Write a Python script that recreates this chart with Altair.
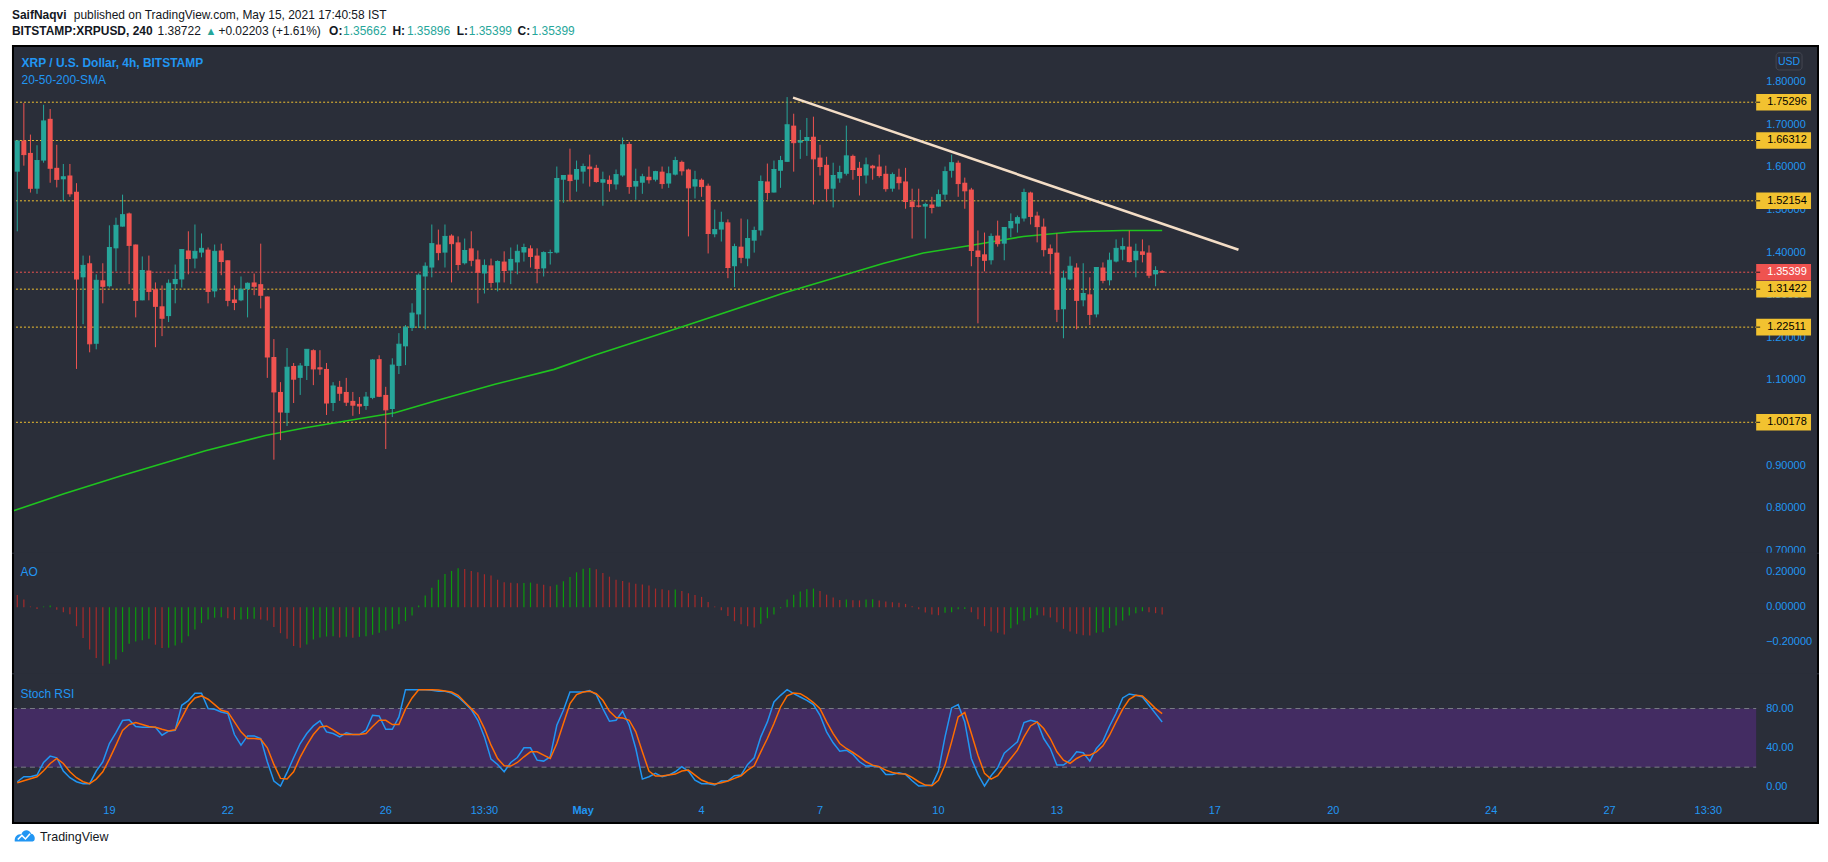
import altair as alt
import pandas as pd

# ---------------- data ----------------
OPEN = [1.590,1.663,1.634,1.550,1.616,1.714,1.599,1.572,1.581,1.543,
        1.342,1.375,1.186,1.335,1.321,1.410,1.461,1.492,1.419,1.288,
        1.358,1.314,1.274,1.251,1.326,1.337,1.405,1.386,1.400,1.407,
        1.309,1.405,1.382,1.290,1.288,1.314,1.330,1.326,1.297,1.155,
        1.073,1.024,1.134,1.106,1.134,1.171,1.131,1.127,1.047,1.085,
        1.073,1.052,1.045,1.040,1.059,1.150,1.066,1.033,1.134,1.180,
        1.223,1.255,1.344,1.365,1.419,1.400,1.440,1.424,1.375,1.410,
        1.384,1.351,1.370,1.330,1.379,1.358,1.377,1.400,1.410,1.393,
        1.363,1.399,1.400,1.571,1.583,1.571,1.590,1.602,1.599,1.564,
        1.571,1.560,1.581,1.655,1.555,1.564,1.578,1.571,1.590,1.562,
        1.583,1.613,1.595,1.555,1.571,1.557,1.443,1.454,1.471,1.368,
        1.414,1.386,1.428,1.452,1.567,1.541,1.592,1.613,1.698,1.658,
        1.662,1.672,1.623,1.606,1.550,1.574,1.585,1.627,1.599,1.581,
        1.604,1.602,1.585,1.550,1.578,1.567,1.520,1.510,1.508,1.513,
        1.508,1.536,1.592,1.611,1.564,1.548,1.405,1.396,1.382,1.440,
        1.421,1.457,1.468,1.480,1.541,1.487,1.461,1.410,1.400,1.267,
        1.337,1.365,1.288,1.302,1.255,1.365,1.335,1.379,1.407,1.414,
        1.382,1.403,1.400,1.349,1.35662]
HIGH = [1.664,1.751,1.677,1.652,1.747,1.737,1.653,1.608,1.608,1.563,
        1.393,1.393,1.349,1.375,1.464,1.482,1.536,1.494,1.419,1.391,
        1.393,1.330,1.323,1.337,1.372,1.407,1.450,1.466,1.445,1.412,
        1.419,1.421,1.382,1.323,1.344,1.330,1.351,1.421,1.297,1.197,
        1.096,1.176,1.141,1.141,1.173,1.173,1.171,1.141,1.096,1.099,
        1.106,1.073,1.061,1.073,1.150,1.159,1.085,1.152,1.211,1.230,
        1.281,1.351,1.377,1.466,1.454,1.466,1.443,1.438,1.433,1.450,
        1.405,1.384,1.386,1.382,1.403,1.412,1.419,1.421,1.417,1.410,
        1.403,1.407,1.602,1.581,1.644,1.616,1.609,1.630,1.606,1.590,
        1.581,1.595,1.670,1.660,1.597,1.585,1.602,1.592,1.602,1.602,
        1.625,1.616,1.597,1.592,1.574,1.562,1.501,1.496,1.478,1.421,
        1.480,1.478,1.461,1.581,1.609,1.616,1.627,1.765,1.726,1.688,
        1.716,1.719,1.653,1.625,1.611,1.604,1.698,1.630,1.613,1.623,
        1.606,1.630,1.604,1.588,1.597,1.599,1.550,1.550,1.517,1.531,
        1.548,1.602,1.630,1.616,1.576,1.552,1.452,1.447,1.445,1.475,
        1.459,1.492,1.487,1.550,1.543,1.496,1.480,1.419,1.445,1.358,
        1.391,1.375,1.375,1.342,1.365,1.377,1.400,1.431,1.435,1.452,
        1.421,1.431,1.417,1.368,1.35896]
LOW = [1.450,1.604,1.541,1.538,1.611,1.564,1.553,1.520,1.531,1.127,
       1.232,1.166,1.173,1.281,1.318,1.356,1.461,1.326,1.248,1.288,
       1.288,1.178,1.204,1.237,1.281,1.318,1.349,1.363,1.389,1.281,
       1.295,1.347,1.274,1.265,1.286,1.248,1.300,1.269,1.106,0.914,
       0.960,0.993,1.047,1.066,1.101,1.089,1.113,1.019,1.028,1.052,
       1.040,1.017,1.021,1.031,1.056,1.061,0.939,1.014,1.115,1.136,
       1.216,1.223,1.220,1.342,1.382,1.365,1.330,1.358,1.372,1.368,
       1.281,1.304,1.318,1.309,1.330,1.326,1.349,1.379,1.365,1.328,
       1.344,1.372,1.398,1.517,1.520,1.543,1.562,1.555,1.564,1.510,
       1.543,1.548,1.578,1.538,1.524,1.538,1.562,1.567,1.550,1.552,
       1.581,1.581,1.438,1.527,1.531,1.398,1.436,1.426,1.340,1.319,
       1.375,1.368,1.400,1.440,1.524,1.541,1.552,1.613,1.590,1.620,
       1.627,1.513,1.581,1.520,1.506,1.564,1.581,1.571,1.534,1.562,
       1.571,1.576,1.543,1.543,1.548,1.503,1.433,1.506,1.433,1.492,
       1.508,1.524,1.576,1.531,1.503,1.368,1.234,1.356,1.372,1.414,
       1.382,1.436,1.447,1.473,1.466,1.424,1.391,1.349,1.237,1.199,
       1.335,1.220,1.274,1.230,1.248,1.328,1.323,1.377,1.382,1.377,
       1.342,1.377,1.340,1.321,1.35399]
CLOSE = [1.662,1.630,1.551,1.616,1.709,1.598,1.572,1.578,1.538,1.338,
         1.370,1.186,1.335,1.321,1.412,1.464,1.489,1.417,1.288,1.358,
         1.309,1.274,1.246,1.328,1.337,1.407,1.386,1.403,1.410,1.309,
         1.403,1.379,1.288,1.283,1.314,1.328,1.321,1.300,1.155,1.073,
         1.026,1.131,1.103,1.134,1.173,1.127,1.127,1.047,1.087,1.070,
         1.049,1.042,1.040,1.061,1.148,1.063,1.031,1.136,1.185,1.225,
         1.258,1.347,1.368,1.421,1.400,1.438,1.421,1.372,1.405,1.382,
         1.354,1.370,1.330,1.379,1.358,1.384,1.403,1.412,1.391,1.363,
         1.400,1.400,1.574,1.581,1.569,1.595,1.602,1.597,1.567,1.571,
         1.562,1.583,1.653,1.555,1.567,1.578,1.571,1.590,1.562,1.585,
         1.616,1.592,1.552,1.571,1.555,1.445,1.454,1.471,1.365,1.414,
         1.389,1.433,1.452,1.567,1.541,1.595,1.616,1.700,1.658,1.662,
         1.670,1.620,1.602,1.550,1.581,1.588,1.627,1.595,1.581,1.606,
         1.599,1.581,1.550,1.583,1.564,1.520,1.508,1.509,1.513,1.506,
         1.536,1.590,1.611,1.562,1.545,1.405,1.391,1.382,1.438,1.421,
         1.459,1.473,1.482,1.541,1.485,1.461,1.407,1.398,1.267,1.340,
         1.368,1.288,1.304,1.255,1.365,1.335,1.382,1.410,1.414,1.379,
         1.403,1.396,1.347,1.358,1.35399]

AO = [0.070,0.044,0.004,-0.010,0.004,0.010,-0.015,-0.029,-0.040,-0.109,
      -0.177,-0.242,-0.291,-0.335,-0.324,-0.299,-0.257,-0.210,-0.196,-0.190,
      -0.181,-0.215,-0.234,-0.232,-0.219,-0.204,-0.166,-0.128,-0.091,-0.070,
      -0.061,-0.057,-0.063,-0.072,-0.070,-0.068,-0.066,-0.070,-0.076,-0.114,
      -0.149,-0.181,-0.223,-0.232,-0.213,-0.185,-0.173,-0.168,-0.166,-0.173,
      -0.170,-0.175,-0.170,-0.166,-0.158,-0.147,-0.133,-0.124,-0.097,-0.080,
      -0.048,0.010,0.067,0.112,0.158,0.190,0.208,0.223,0.219,0.208,
      0.200,0.189,0.181,0.158,0.143,0.140,0.138,0.139,0.141,0.135,
      0.128,0.120,0.128,0.149,0.173,0.200,0.221,0.225,0.217,0.196,
      0.175,0.158,0.150,0.141,0.135,0.130,0.124,0.107,0.103,0.097,
      0.101,0.093,0.080,0.070,0.059,0.030,0.004,-0.017,-0.050,-0.080,
      -0.097,-0.109,-0.116,-0.095,-0.063,-0.042,-0.006,0.044,0.072,0.090,
      0.103,0.107,0.093,0.072,0.055,0.042,0.044,0.040,0.039,0.044,
      0.045,0.038,0.032,0.029,0.025,0.019,0.006,-0.011,-0.030,-0.042,
      -0.046,-0.032,-0.029,-0.011,-0.010,-0.029,-0.069,-0.109,-0.139,-0.147,
      -0.156,-0.120,-0.099,-0.078,-0.063,-0.046,-0.048,-0.059,-0.086,-0.124,
      -0.139,-0.152,-0.160,-0.162,-0.147,-0.143,-0.120,-0.105,-0.076,-0.048,
      -0.034,-0.023,-0.029,-0.034,-0.042]

STOCH_K = [5.1,10.2,10.2,11.9,24.8,31.3,29.6,16.0,9.2,5.1,
           3.1,3.1,16.0,25.5,44.2,55.4,67.7,68.4,61.6,60.9,
           60.9,60.9,52.7,56.8,57.8,83.3,88.1,95.6,95.6,79.9,
           79.3,76.5,74.8,53.4,42.5,52.0,52.0,49.3,25.5,5.8,
           0.7,14.6,29.6,44.2,54.4,62.2,67.3,56.1,54.4,51.0,
           55.1,53.4,53.4,57.8,73.1,72.4,58.8,58.8,71.4,99.3,
           99.3,99.3,99.3,98.6,97.6,97.6,95.9,91.8,85.7,78.9,
           68.0,51.0,28.2,22.8,15.3,24.8,29.9,39.8,39.8,27.2,
           26.2,30.6,62.9,78.2,96.9,96.9,96.9,98.3,94.2,79.9,
           67.0,68.0,77.2,62.9,39.1,7.8,10.2,13.6,10.2,11.9,
           15.3,20.4,16.0,6.8,3.1,3.1,1.7,5.8,6.1,11.2,
           11.9,22.8,29.6,51.0,66.3,86.7,93.5,99.3,95.2,91.8,
           88.4,84.0,73.1,56.1,44.9,36.4,37.4,33.0,25.5,21.1,
           21.4,20.4,12.6,12.6,14.3,12.6,6.1,0.7,1.0,1.7,
           16.0,51.0,80.6,84.0,66.3,28.9,12.6,0.7,11.2,19.4,
           34.4,40.1,45.9,65.6,68.0,66.3,49.3,39.1,22.1,22.1,
           27.2,35.7,34.7,26.2,39.1,46.6,61.9,75.2,90.8,94.9,
           93.5,91.8,83.3,74.8,66.3]
STOCH_D = [4.1,6.1,8.2,10.2,16.3,23.8,28.9,23.8,15.3,9.2,
           5.1,3.1,7.8,15.3,28.2,42.5,57.5,63.6,65.6,63.6,
           61.6,60.9,58.8,57.1,58.2,70.4,83.3,90.8,92.9,89.5,
           84.0,78.2,76.5,66.3,56.1,49.3,49.3,48.6,39.8,22.8,
           8.5,7.8,15.3,30.3,42.5,53.4,61.2,62.2,58.2,53.7,
           53.4,53.4,53.4,54.4,61.6,68.0,68.0,63.6,63.6,79.3,
           90.8,99.3,99.3,99.3,99.0,98.0,96.9,93.5,86.7,79.9,
           73.1,59.5,42.5,28.9,21.4,21.1,24.8,30.6,35.7,35.7,
           32.3,28.9,44.2,64.6,85.0,94.2,96.9,97.6,95.2,88.4,
           77.2,70.7,70.4,68.0,56.1,35.7,16.0,10.9,10.9,11.9,
           12.9,16.0,17.0,11.9,6.8,4.1,2.7,4.1,5.8,8.5,
           11.2,17.0,21.4,35.7,49.3,64.6,81.6,92.9,95.9,95.2,
           91.2,86.1,79.9,66.3,54.4,44.2,39.1,35.0,30.6,25.5,
           22.1,20.4,17.0,14.6,13.3,12.9,9.5,5.1,1.7,1.0,
           6.5,22.1,45.9,71.4,75.9,54.4,32.3,13.6,7.8,11.2,
           20.4,28.9,37.4,51.0,62.2,66.3,59.5,49.3,35.7,27.2,
           23.8,28.9,32.3,32.3,35.7,41.8,52.7,66.3,79.3,89.5,
           93.5,92.9,86.7,79.9,74.8]

# 200-SMA, read as vertices (candle index, price)
SMA_IDX = [-0.8, 7.1, 15.7, 28.6, 37.7, 43.8, 57.4, 63.5, 72.6, 81.6, 87.7,
           101.3, 116.5, 131.7, 137.7, 145.3, 152.9, 160.5, 168.0, 174.0]
SMA_VAL = [0.793, 0.834, 0.876, 0.935, 0.971, 0.989, 1.024, 1.052, 1.091, 1.126, 1.159,
           1.227, 1.305, 1.375, 1.399, 1.418, 1.438, 1.449, 1.452, 1.452]

TREND_IDX = [117.9, 185.6]
TREND_VAL = [1.7637, 1.4066]

LEVELS = [1.75296, 1.66312, 1.52154, 1.31422, 1.22511, 1.00178]
LEVEL_TEXT = ["1.75296", "1.66312", "1.52154", "1.31422", "1.22511", "1.00178"]
LAST_PRICE = [1.35399]
LAST_TEXT = ["1.35399"]

PRICE_TICKS = [0.7, 0.8, 0.9, 1.0, 1.1, 1.2, 1.3, 1.4, 1.5, 1.6, 1.7, 1.8]
AO_TICKS = [-0.2, 0.0, 0.2]
STOCH_TICKS = [0, 40, 80]
STOCH_BAND = [20, 80]

TIME_POS = [14, 32, 56, 71, 86, 104, 122, 140, 158, 182, 200, 224, 242, 257]
TIME_LABELS = ["19", "22", "26", "13:30", "May", "4", "7", "10", "13", "17",
               "20", "24", "27", "13:30"]

# ---------------- styling / layout ----------------
DARK = "#2a2e39"
BLUE = "#2196f3"
UP = "#26a69a"
DOWN = "#ef5350"
YEL = "#f2c230"
INK = "#131722"
AO_UP = "#0b9a0b"
AO_DN = "#a52a2a"
FONT = "Liberation Sans, Arial, Helvetica, sans-serif"

W = 1812
H_HEAD, H_MAIN, H_AO, H_ST, H_FOOT = 35, 510, 121, 150, 24
PLOT_R = 1749           # right edge of the plotting area (px)
LABEL_X = 1759          # left edge of the price-scale labels (px)
X_DOM = [-0.803, -0.803 + W / 6.598]
PRICE_DOM = [0.6935, 1.8871]
AO_DOM = [-0.3846, 0.3069]
ST_DOM = [-38.06, 115.0]

XS = alt.Scale(domain=X_DOM, nice=False, zero=False)
PS = alt.Scale(domain=PRICE_DOM, nice=False, zero=False)
AS = alt.Scale(domain=AO_DOM, nice=False, zero=False)
SS = alt.Scale(domain=ST_DOM, nice=False, zero=False)

ONE = pd.DataFrame({"k": [0]})


def txt(text, x, y, size=12, color=INK, weight="normal", align="left",
        baseline="alphabetic", font=FONT):
    return alt.Chart(ONE).mark_text(
        text=text, fontSize=size, color=color, fontWeight=weight, align=align,
        baseline=baseline, font=font
    ).encode(x=alt.value(x), y=alt.value(y))


def scale_labels(df, scale, fmt):
    return alt.Chart(df).mark_text(align="left", baseline="middle", fontSize=11,
                                   font=FONT, color=BLUE).encode(
        y=alt.Y("p:Q", scale=scale, axis=None), x=alt.value(LABEL_X),
        text=alt.Text("p:Q", format=fmt))


def pane_fill(h, top_ext=1, bottom_ext=1):
    # dark panel background, slightly overlapping neighbours so no seam shows
    return alt.Chart(ONE).mark_rect(color=DARK).encode(
        x=alt.value(0), x2=alt.value(W), y=alt.value(-top_ext), y2=alt.value(h + bottom_ext))


def borders(h, top=False, bottom=False):
    layers = [
        alt.Chart(ONE).mark_rule(color="#000000", strokeWidth=2).encode(
            x=alt.value(1), y=alt.value(0), y2=alt.value(h)),
        alt.Chart(ONE).mark_rule(color="#000000", strokeWidth=2).encode(
            x=alt.value(W - 1), y=alt.value(0), y2=alt.value(h)),
    ]
    if top:
        layers.append(alt.Chart(ONE).mark_rule(color="#000000", strokeWidth=2).encode(
            x=alt.value(0), x2=alt.value(W), y=alt.value(1)))
    if bottom:
        layers.append(alt.Chart(ONE).mark_rule(color="#000000", strokeWidth=2).encode(
            x=alt.value(0), x2=alt.value(W), y=alt.value(h - 1)))
    return layers


VIEW_DARK = alt.ViewBackground(fill=DARK, stroke=DARK, strokeWidth=0)
VIEW_WHITE = alt.ViewBackground(fill="white", stroke="white", strokeWidth=0)

# ---------------- tables ----------------
n = len(OPEN)
candles = pd.DataFrame({"i": list(range(n)), "o": OPEN, "h": HIGH, "l": LOW, "c": CLOSE})
candles["dir"] = ["up" if c >= o else "down" for o, c in zip(OPEN, CLOSE)]
HALF = 2.5 / 6.598
candles["xl"] = candles["i"] - HALF
candles["xr"] = candles["i"] + HALF

ao_dir = ["down"] + ["up" if AO[k] > AO[k - 1] else "down" for k in range(1, len(AO))]
ao_df = pd.DataFrame({"i": list(range(len(AO))), "v": AO, "zero": [0.0] * len(AO), "dir": ao_dir})

stoch_df = pd.DataFrame({"i": list(range(len(STOCH_K))), "k": STOCH_K, "d": STOCH_D})
sma_df = pd.DataFrame({"i": SMA_IDX, "v": SMA_VAL})
trend_df = pd.DataFrame({"i": TREND_IDX, "v": TREND_VAL})

BOX_HALF = 8.3 / 427.3
lvl_df = pd.DataFrame({"price": LEVELS, "label": LEVEL_TEXT})
last_df = pd.DataFrame({"price": LAST_PRICE, "label": LAST_TEXT})
for d in (lvl_df, last_df):
    d["lo"] = d["price"] - BOX_HALF
    d["hi"] = d["price"] + BOX_HALF

price_ticks_df = pd.DataFrame({"p": PRICE_TICKS})
ao_ticks_df = pd.DataFrame({"p": AO_TICKS})
st_ticks_df = pd.DataFrame({"p": STOCH_TICKS})
band_df = pd.DataFrame({"lo": [STOCH_BAND[0]], "hi": [STOCH_BAND[1]]})
band_lines = pd.DataFrame({"p": STOCH_BAND})
time_df = pd.DataFrame({"pos": TIME_POS, "lab": TIME_LABELS})

X_I = alt.X("i:Q", scale=XS, axis=None)

# ---------------- header ----------------
header = alt.layer(
    txt("SaifNaqvi", 0, 9.3, weight="bold"),
    txt("published on TradingView.com, May 15, 2021 17:40:58 IST", 62, 9.3),
    txt("BITSTAMP:XRPUSD, 240", 0, 25.3, weight="bold"),
    txt("1.38722", 146, 25.3),
    txt("\u25b2", 194, 25.3, color=UP, size=11),
    txt("+0.02203 (+1.61%)", 207, 25.3),
    txt("O:", 318, 25.3, weight="bold"),
    txt("1.35662", 332, 25.3, color=UP),
    txt("H:", 381.5, 25.3, weight="bold"),
    txt("1.35896", 396, 25.3, color=UP),
    txt("L:", 446, 25.3, weight="bold"),
    txt("1.35399", 458, 25.3, color=UP),
    txt("C:", 507, 25.3, weight="bold"),
    txt("1.35399", 521, 25.3, color=UP),
).properties(width=W, height=H_HEAD, view=VIEW_WHITE)

# ---------------- main price pane ----------------
def level_rule(df, color):
    return alt.Chart(df).mark_rule(strokeWidth=1, strokeDash=[2, 2], color=color).encode(
        y=alt.Y("price:Q", scale=PS, axis=None), x=alt.value(0), x2=alt.value(PLOT_R))


def candle_layers(direction, color):
    base = alt.Chart(candles).transform_filter(alt.datum.dir == direction)
    wick = base.mark_rule(strokeWidth=1, color=color).encode(
        x=X_I, y=alt.Y("l:Q", scale=PS, axis=None), y2="h:Q")
    body = base.mark_rect(color=color).encode(
        x=alt.X("xl:Q", scale=XS, axis=None), x2="xr:Q",
        y=alt.Y("o:Q", scale=PS, axis=None), y2="c:Q")
    tick = base.mark_rule(strokeWidth=1, color=color).encode(
        x=alt.X("xl:Q", scale=XS, axis=None), x2="xr:Q",
        y=alt.Y("c:Q", scale=PS, axis=None))
    return [wick, body, tick]


def price_boxes(df, fill, ink):
    box = alt.Chart(df).mark_rect(color=fill).encode(
        y=alt.Y("lo:Q", scale=PS, axis=None), y2="hi:Q",
        x=alt.value(PLOT_R), x2=alt.value(PLOT_R + 55))
    tick = alt.Chart(df).mark_rule(strokeWidth=1, color=INK).encode(
        y=alt.Y("price:Q", scale=PS, axis=None),
        x=alt.value(PLOT_R), x2=alt.value(PLOT_R + 4))
    label = alt.Chart(df).mark_text(align="left", baseline="middle", fontSize=11,
                                    font=FONT, color=ink).encode(
        y=alt.Y("price:Q", scale=PS, axis=None), x=alt.value(PLOT_R + 11), text="label:N")
    return [box, tick, label]


sma_line = alt.Chart(sma_df).mark_line(color="#1fc41f", strokeWidth=1.6).encode(
    x=X_I, y=alt.Y("v:Q", scale=PS, axis=None))
trend = alt.Chart(trend_df).mark_line(color="#f3ddc6", strokeWidth=2.6).encode(
    x=X_I, y=alt.Y("v:Q", scale=PS, axis=None))
usd_box = alt.Chart(ONE).mark_rect(fill=DARK, stroke="#434651", strokeWidth=1, cornerRadius=3).encode(
    x=alt.value(1769), x2=alt.value(1795), y=alt.value(7.7), y2=alt.value(25))

main = alt.layer(
    pane_fill(H_MAIN, top_ext=0),
    scale_labels(price_ticks_df, PS, ".5f"),
    level_rule(lvl_df, YEL), level_rule(last_df, DOWN),
    sma_line,
    *candle_layers("up", UP), *candle_layers("down", DOWN),
    trend,
    *price_boxes(lvl_df, YEL, "#000000"), *price_boxes(last_df, DOWN, "white"),
    usd_box,
    txt("USD", 1782, 16.6, size=10.5, color=BLUE, align="center", baseline="middle"),
    txt("XRP / U.S. Dollar, 4h, BITSTAMP", 9.6, 22, size=12, color=BLUE, weight="bold"),
    txt("20-50-200-SMA", 9.6, 38.7, size=12, color=BLUE),
    *borders(H_MAIN, top=True),
).properties(width=W, height=H_MAIN, view=VIEW_DARK)

# ---------------- AO pane ----------------
def ao_layer(direction, color):
    return alt.Chart(ao_df).transform_filter(alt.datum.dir == direction).mark_rule(
        strokeWidth=1.2, color=color).encode(
        x=X_I, y=alt.Y("zero:Q", scale=AS, axis=None), y2="v:Q")


ao_pane = alt.layer(
    pane_fill(H_AO),
    scale_labels(ao_ticks_df, AS, ".5f"),
    ao_layer("up", AO_UP), ao_layer("down", AO_DN),
    txt("AO", 8.5, 22.7, size=12, color=BLUE),
    *borders(H_AO),
).properties(width=W, height=H_AO, view=VIEW_DARK)

# ---------------- Stoch RSI pane ----------------
band = alt.Chart(band_df).mark_rect(color="#432c62").encode(
    y=alt.Y("lo:Q", scale=SS, axis=None), y2="hi:Q",
    x=alt.value(0), x2=alt.value(PLOT_R))
band_rules = alt.Chart(band_lines).mark_rule(color="#787b86", strokeWidth=1, strokeDash=[5, 4]).encode(
    y=alt.Y("p:Q", scale=SS, axis=None), x=alt.value(0), x2=alt.value(PLOT_R))
k_line = alt.Chart(stoch_df).mark_line(color=BLUE, strokeWidth=1.5).encode(
    x=X_I, y=alt.Y("k:Q", scale=SS, axis=None))
d_line = alt.Chart(stoch_df).mark_line(color="#ff6d00", strokeWidth=1.5).encode(
    x=X_I, y=alt.Y("d:Q", scale=SS, axis=None))
time_norm = alt.Chart(time_df).transform_filter(alt.datum.lab != "May").mark_text(
    fontSize=11, color=BLUE, font=FONT, baseline="middle", align="center").encode(
    x=alt.X("pos:Q", scale=XS, axis=None), y=alt.value(137), text="lab:N")
time_bold = alt.Chart(time_df).transform_filter(alt.datum.lab == "May").mark_text(
    fontSize=11, color=BLUE, font=FONT, baseline="middle", align="center", fontWeight="bold").encode(
    x=alt.X("pos:Q", scale=XS, axis=None), y=alt.value(137), text="lab:N")

st_pane = alt.layer(
    pane_fill(H_ST, bottom_ext=0),
    band, band_rules, k_line, d_line,
    scale_labels(st_ticks_df, SS, ".2f"),
    time_norm, time_bold,
    txt("Stoch RSI", 8.5, 23.7, size=12, color=BLUE),
    *borders(H_ST, bottom=True),
).properties(width=W, height=H_ST, view=VIEW_DARK)

# ---------------- footer ----------------
CLOUD = ("M-1,0.55 C-1.05,0.05 -0.7,-0.25 -0.35,-0.15 C-0.2,-0.65 0.45,-0.7 0.6,-0.2 "
         "C1.0,-0.2 1.1,0.55 0.75,0.55 Z")
ZIG = "M-0.7,0.35 L-0.3,-0.05 L0.05,0.3 L0.5,-0.2"
icon = alt.Chart(ONE).mark_point(shape=CLOUD, filled=True, color=BLUE, size=420, opacity=1).encode(
    x=alt.value(13), y=alt.value(12))
icon_line = alt.Chart(ONE).mark_point(shape=ZIG, filled=False, color="white", size=420,
                                      strokeWidth=1.6, opacity=1).encode(
    x=alt.value(13), y=alt.value(12))
footer = alt.layer(
    icon, icon_line,
    txt("TradingView", 28, 17, size=12.5, color=INK),
).properties(width=W, height=H_FOOT, view=VIEW_WHITE)

chart = alt.vconcat(header, main, ao_pane, st_pane, footer, spacing=0, bounds="flush").properties(
    padding=0, background="white"
).configure_view(strokeWidth=0)

chart.save("out.html", embed_options={"renderer": "svg", "actions": False})
